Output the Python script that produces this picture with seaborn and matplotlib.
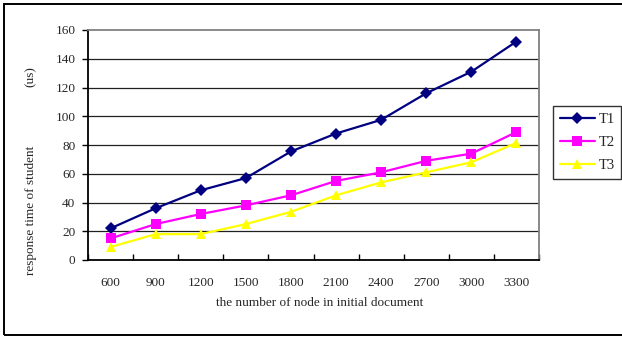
import matplotlib
matplotlib.use("Agg")
import matplotlib.pyplot as plt
import seaborn as sns
import pandas as pd
from matplotlib.patches import Rectangle

nodes = ["600", "900", "1200", "1500", "1800", "2100", "2400", "2700", "3000", "3300"]
t1 = [22, 36, 48.5, 57, 75.5, 88, 97.5, 116, 131, 152]
t2 = [15, 25, 32, 38, 45, 55, 61, 69, 74, 89]
t3 = [9, 18, 18, 25, 33.5, 45, 54, 61, 68, 81.5]
series_names = ["T1", "T2", "T3"]
y_ticks = [0, 20, 40, 60, 80, 100, 120, 140, 160]

df = pd.DataFrame({
    "nodes": nodes * 3,
    "time": t1 + t2 + t3,
    "series": [s for s in series_names for _ in nodes],
})

sns.set_style("white")
plt.rcParams["font.family"] = ["Liberation Serif", "DejaVu Serif"]
plt.rcParams["font.size"] = 9.5

fig = plt.figure(figsize=(6.22, 3.38), dpi=100)
ax = fig.add_axes([88 / 622, 1 - 260 / 338, (539 - 88) / 622, (260 - 30) / 338])

palette = {"T1": "#000080", "T2": "#FF00FF", "T3": "#FFFF00"}
markers = {"T1": "D", "T2": "s", "T3": "^"}
sns.lineplot(data=df, x="nodes", y="time", hue="series", style="series",
             palette=palette, markers=markers, dashes=False, sort=False,
             markersize=6.5, markeredgewidth=0, linewidth=1.6, ax=ax, zorder=3)

ax.set_xlim(-0.5, len(nodes) - 0.5)
ax.set_ylim(0, 160)
ax.set_yticks(y_ticks)
ax.set_xticks(range(len(nodes)))
ax.set_xticklabels(nodes)
ax.set_xticks([i - 0.5 for i in range(len(nodes) + 1)], minor=True)
ax.tick_params(axis="x", which="major", length=0, pad=12.5, labelsize=9.5)
ax.tick_params(axis="x", which="minor", length=4, width=1, direction="in", color="black")
ax.tick_params(axis="y", which="major", length=4, width=1, direction="out", color="black",
               pad=5, labelsize=9.5)
ax.yaxis.set_ticks_position("left")
ax.xaxis.set_ticks_position("bottom")

for y in y_ticks[1:-1]:
    ax.axhline(y, color="#202020", lw=0.9, zorder=1)

ax.spines["left"].set_color("black")
ax.spines["left"].set_linewidth(1.3)
ax.spines["bottom"].set_color("black")
ax.spines["bottom"].set_linewidth(1.3)
ax.spines["top"].set_color("#808080")
ax.spines["top"].set_linewidth(1.3)
ax.spines["right"].set_color("#808080")
ax.spines["right"].set_linewidth(1.3)

ax.set_xlabel("")
ax.set_ylabel("")
fig.text(320 / 622, 1 - 303 / 338, "the number of node in initial document",
         ha="center", va="center", fontsize=9.5)
fig.text(31 / 622, 1 - 210 / 338, "response time of student",
         ha="center", va="center", rotation=90, fontsize=9.5)
fig.text(31 / 622, 1 - 77 / 338, "(us)",
         ha="center", va="center", rotation=90, fontsize=9.5)

handles, labels = ax.get_legend_handles_labels()
if ax.legend_:
    ax.legend_.remove()
leg = fig.legend(handles, labels, loc="upper left",
                 bbox_to_anchor=(553 / 622, 1 - 106 / 338),
                 frameon=True, fancybox=False, edgecolor="black",
                 fontsize=10.5, labelspacing=0.68, handlelength=2.45,
                 handletextpad=0.22, borderpad=0.45, borderaxespad=0)
leg.get_frame().set_linewidth(1.0)

fig.patches.append(Rectangle((4 / 622, 3 / 338), 1.2, 331 / 338,
                             transform=fig.transFigure, fill=False,
                             edgecolor="black", lw=1.4))

fig.savefig("out.png", dpi=100)
